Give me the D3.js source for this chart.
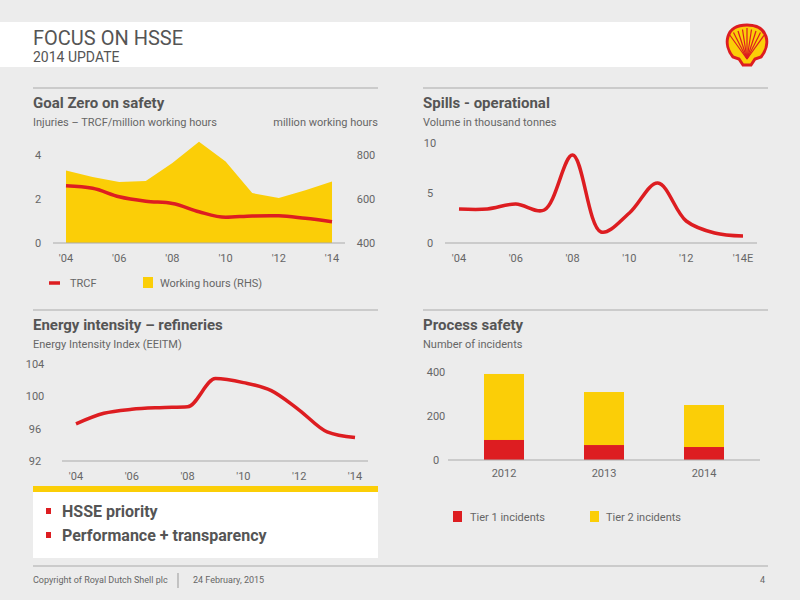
<!DOCTYPE html>
<html><head><meta charset="utf-8">
<script src="https://cdn.jsdelivr.net/npm/d3@7"></script>
<style>body{margin:0;background:#ececec}svg{display:block;font-family:"Liberation Sans Narrow","Roboto",sans-serif}</style>
</head><body><svg id="c" width="800" height="600"></svg>
<script>
const years=[2004,2005,2006,2007,2008,2009,2010,2011,2012,2013,2014];
const xTickLabels1=["'04","'06","'08","'10","'12","'14"];
const xTickLabels2=["'04","'06","'08","'10","'12","'14E"];
const trcf=[2.6,2.49,2.1,1.9,1.8,1.42,1.17,1.23,1.24,1.12,0.97];
const workingHours=[730,700,677,682,764,860,770,627,605,640,679];
const spills=[3.4,3.4,3.9,3.3,8.8,1.1,3.0,6.0,2.2,1.0,0.7];
const energyIndex=[96.6,97.9,98.4,98.6,98.7,102.2,101.7,100.7,98.3,95.6,94.9];
const psYears=["2012","2013","2014"];
const tier1=[91,68,59];
const tier2=[300,241,191];

const RED="#dd1d21",YEL="#fbce07",GRY="#666",AX="#aaa";
const svg=d3.select("#c");
// header
svg.append("rect").attr("x",0).attr("y",22).attr("width",690).attr("height",45).attr("fill","#fff");
svg.append("text").attr("x",33).attr("y",45).attr("font-size",20).attr("fill","#555").text("FOCUS ON HSSE");
svg.append("text").attr("x",33).attr("y",62).attr("font-size",14).attr("fill","#555").text("2014 UPDATE");
// logo
const lg=svg.append("g").attr("transform","translate(747,45)");
lg.append("path").attr("d","M-4,20 L-8,14 L-14,12 C-24,0 -22,-20 0,-20 C22,-20 24,0 14,12 L8,14 L4,20 Z").attr("fill",YEL).attr("stroke",RED).attr("stroke-width",3);
for(let i=-4;i<=4;i++){lg.append("line").attr("x1",0).attr("y1",14).attr("x2",i*4.5).attr("y2",-17+Math.abs(i)*1.5).attr("stroke",RED).attr("stroke-width",1.2);}

function section(x,y,w,title,sub,sub2){
  svg.append("line").attr("x1",x).attr("x2",x+w).attr("y1",y).attr("y2",y).attr("stroke","#aaa");
  svg.append("text").attr("x",x).attr("y",y+20).attr("font-size",15).attr("font-weight","bold").attr("fill","#555").text(title);
  svg.append("text").attr("x",x).attr("y",y+38).attr("font-size",11).attr("fill",GRY).text(sub);
  if(sub2)svg.append("text").attr("x",x+w).attr("y",y+38).attr("text-anchor","end").attr("font-size",11).attr("fill",GRY).text(sub2);
}
section(33,88,345,"Goal Zero on safety","Injuries – TRCF/million working hours","million working hours");
section(423,88,345,"Spills - operational","Volume in thousand tonnes");
section(33,310,345,"Energy intensity – refineries","Energy Intensity Index (EEITM)");
section(423,310,345,"Process safety","Number of incidents");

function xAxis(x,y,labels,x0,x1){
  const idx=[0,2,4,6,8,10];
  idx.forEach((d,i)=>svg.append("text").attr("x",x(years[d])).attr("y",y+19).attr("text-anchor","middle").attr("font-size",11).attr("fill",GRY).text(labels[i]));
  svg.append("line").attr("x1",x0).attr("x2",x1).attr("y1",y).attr("y2",y).attr("stroke",AX);
}
function yLabels(scale,ticks,xx,anchor){
  ticks.forEach(t=>svg.append("text").attr("x",xx).attr("y",scale(t)+4).attr("text-anchor",anchor).attr("font-size",11).attr("fill",GRY).text(t));
}
// chart 1
const x1=d3.scaleLinear().domain([2004,2014]).range([66,332]);
const yL=d3.scaleLinear().domain([0,4]).range([243,155]);
const yR=d3.scaleLinear().domain([400,800]).range([243,155]);
svg.append("path").datum(workingHours).attr("fill",YEL)
 .attr("d",d3.area().x((d,i)=>x1(years[i])).y0(yR(400)).y1(d=>yR(d)));
svg.append("path").datum(trcf).attr("fill","none").attr("stroke",RED).attr("stroke-width",3.5)
 .attr("d",d3.line().x((d,i)=>x1(years[i])).y(d=>yL(d)).curve(d3.curveMonotoneX));
xAxis(x1,243,xTickLabels1,53,345);
yLabels(yL,[0,2,4],38,"middle");
yLabels(yR,[400,600,800],366,"middle");
svg.append("line").attr("x1",49).attr("x2",60).attr("y1",283).attr("y2",283).attr("stroke",RED).attr("stroke-width",3.5);
svg.append("text").attr("x",70).attr("y",287).attr("font-size",11).attr("fill",GRY).text("TRCF");
svg.append("rect").attr("x",143).attr("y",277).attr("width",10).attr("height",11).attr("fill",YEL);
svg.append("text").attr("x",160).attr("y",287).attr("font-size",11).attr("fill",GRY).text("Working hours (RHS)");
// chart 2
const x2=d3.scaleLinear().domain([2004,2014]).range([459,743]);
const y2=d3.scaleLinear().domain([0,10]).range([243,143]);
svg.append("path").datum(spills).attr("fill","none").attr("stroke",RED).attr("stroke-width",3.5)
 .attr("d",d3.line().x((d,i)=>x2(years[i])).y(d=>y2(d)).curve(d3.curveCatmullRom.alpha(0.5)));
xAxis(x2,243,xTickLabels2,445,757);
yLabels(y2,[0,5,10],430,"middle");
// chart 3
const x3=d3.scaleLinear().domain([2004,2014]).range([76,355]);
const y3=d3.scaleLinear().domain([92,104]).range([461,364]);
svg.append("path").datum(energyIndex).attr("fill","none").attr("stroke",RED).attr("stroke-width",3.5)
 .attr("d",d3.line().x((d,i)=>x3(years[i])).y(d=>y3(d)).curve(d3.curveMonotoneX));
xAxis(x3,461,xTickLabels1,62,368);
yLabels(y3,[92,96,100,104],35,"middle");
// box
svg.append("rect").attr("x",33).attr("y",486).attr("width",345).attr("height",6).attr("fill",YEL);
svg.append("rect").attr("x",33).attr("y",492).attr("width",345).attr("height",66).attr("fill","#fff");
[["HSSE priority",517],["Performance + transparency",541]].forEach(([t,y])=>{
  svg.append("rect").attr("x",46).attr("y",y-9).attr("width",5).attr("height",6).attr("fill",RED);
  svg.append("text").attr("x",62).attr("y",y).attr("font-size",16).attr("font-weight","bold").attr("fill","#555").text(t);
});
// chart 4
const x4=d3.scaleBand().domain(psYears).range([454,754]).paddingInner(0.6).paddingOuter(0.3);
const y4=d3.scaleLinear().domain([0,400]).range([460,372]);
psYears.forEach((yr,i)=>{
  svg.append("rect").attr("x",x4(yr)).attr("width",x4.bandwidth()).attr("y",y4(tier1[i]+tier2[i])).attr("height",y4(tier1[i])-y4(tier1[i]+tier2[i])).attr("fill",YEL);
  svg.append("rect").attr("x",x4(yr)).attr("width",x4.bandwidth()).attr("y",y4(tier1[i])).attr("height",y4(0)-y4(tier1[i])).attr("fill",RED);
  svg.append("text").attr("x",x4(yr)+x4.bandwidth()/2).attr("y",477).attr("text-anchor","middle").attr("font-size",11).attr("fill",GRY).text(yr);
});
svg.append("line").attr("x1",448).attr("x2",760).attr("y1",460).attr("y2",460).attr("stroke",AX);
yLabels(y4,[0,200,400],436,"middle");
svg.append("rect").attr("x",453).attr("y",511).attr("width",9).attr("height",11).attr("fill",RED);
svg.append("text").attr("x",470).attr("y",521).attr("font-size",11).attr("fill",GRY).text("Tier 1 incidents");
svg.append("rect").attr("x",590).attr("y",511).attr("width",9).attr("height",11).attr("fill",YEL);
svg.append("text").attr("x",606).attr("y",521).attr("font-size",11).attr("fill",GRY).text("Tier 2 incidents");
// footer
svg.append("line").attr("x1",33).attr("x2",768).attr("y1",566).attr("y2",566).attr("stroke","#aaa");
svg.append("text").attr("x",33).attr("y",583).attr("font-size",9).attr("fill",GRY).text("Copyright of Royal Dutch Shell plc");
svg.append("line").attr("x1",178).attr("x2",178).attr("y1",573).attr("y2",588).attr("stroke","#999");
svg.append("text").attr("x",193).attr("y",583).attr("font-size",9).attr("fill",GRY).text("24 February, 2015");
svg.append("text").attr("x",765).attr("y",583).attr("text-anchor","end").attr("font-size",9).attr("fill",GRY).text("4");
</script></body></html>
